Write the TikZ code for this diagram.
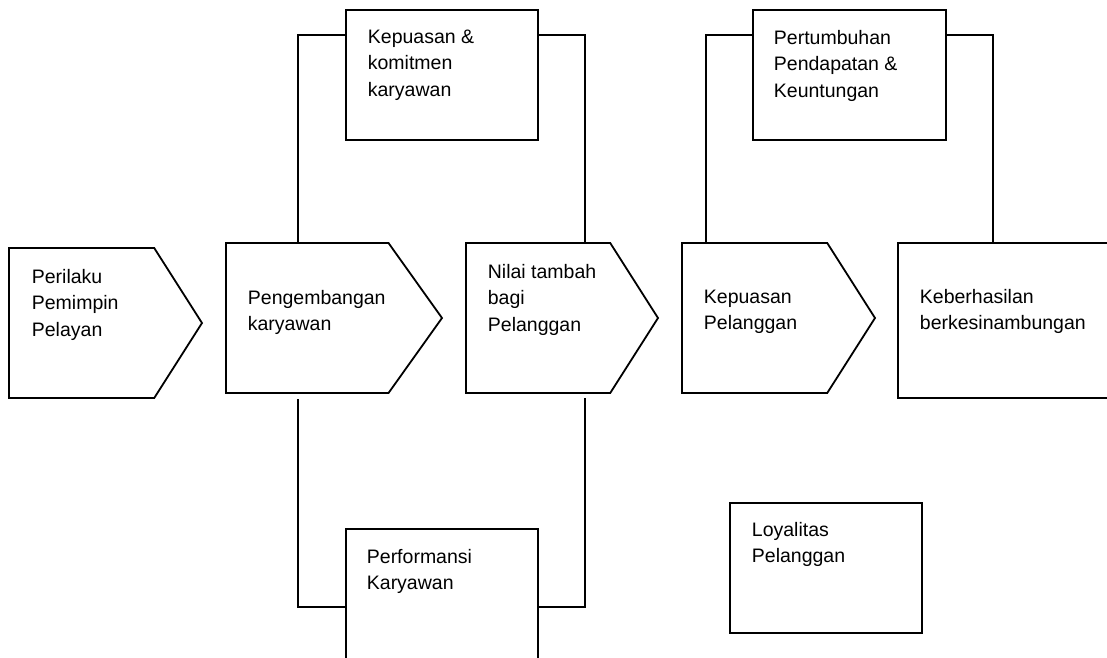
\documentclass[tikz,border=0pt]{standalone}
\usepackage{fontspec}
\setmainfont{Liberation Sans}
\usetikzlibrary{shapes.symbols, positioning}

\begin{document}
\begin{tikzpicture}[x=1pt, y=-1pt, line width=1.8pt,
    chevron/.style={signal, signal to=east, draw, signal pointer angle=115,
        minimum height=150pt, outer sep=0pt, inner sep=0pt, anchor=north west},
    kotak/.style={rectangle, draw, outer sep=0pt, inner sep=0pt, anchor=north west},
    teks/.style={inner sep=0pt, anchor=north west, align=left,
        font=\fontsize{19.5}{26.5}\selectfont}]
\useasboundingbox (0,0) rectangle (1107,657);
\clip (0,0) rectangle (1107,657);
% alur utama
\node[chevron, minimum width=193pt] (perilaku) at (9,248) {};
\node[chevron, minimum width=216pt, signal pointer angle=109] (pengembangan) at (226,243) {};
\node[chevron, minimum width=192pt] (nilai) at (466,243) {};
\node[chevron, minimum width=193pt] (kepuasan) at (682,243) {};
\node[kotak, minimum width=240pt, minimum height=155pt] (keberhasilan) at (898,243) {};
% kotak atas dan bawah
\node[kotak, minimum width=192pt, minimum height=130pt] (komitmen) at (346,10) {};
\node[kotak, minimum width=193pt, minimum height=130pt] (pertumbuhan) at (753,10) {};
\node[kotak, minimum width=192pt, minimum height=160pt] (performansi) at (346,529) {};
\node[kotak, minimum width=192pt, minimum height=130pt] (loyalitas) at (730,503) {};
% teks
\node[teks, below right=20pt and 22pt of perilaku.north west] (perilaku-t) {Perilaku\\Pemimpin\\Pelayan};
\node[teks, below right=46pt and 21pt of pengembangan.north west] (pengembangan-t) {Pengembangan\\karyawan};
\node[teks, below right=20pt and 21pt of nilai.north west] (nilai-t) {Nilai tambah\\bagi\\Pelanggan};
\node[teks, below right=46pt and 21pt of kepuasan.north west] (kepuasan-t) {Kepuasan\\Pelanggan};
\node[teks, below right=45pt and 21pt of keberhasilan.north west] (keberhasilan-t) {Keberhasilan\\berkesinambungan};
\node[teks, below right=19pt and 21pt of komitmen.north west] (komitmen-t) {Kepuasan \&\\komitmen\\karyawan};
\node[teks, below right=19pt and 20pt of pertumbuhan.north west] (pertumbuhan-t) {Pertumbuhan\\Pendapatan \&\\Keuntungan};
\node[teks, below right=19pt and 20pt of performansi.north west] (performansi-t) {Performansi\\Karyawan};
\node[teks, below right=18pt and 21pt of loyalitas.north west] (loyalitas-t) {Loyalitas\\Pelanggan};
% garis penghubung
\draw ([xshift=72pt]pengembangan.north west) |- ([yshift=-25pt]komitmen.north west);
\draw ([yshift=-25pt]komitmen.north east) -| ([xshift=119pt]nilai.north west);
\draw ([xshift=72pt,yshift=-6pt]pengembangan.south west) |- ([yshift=-78pt]performansi.north west);
\draw ([xshift=119pt,yshift=-5pt]nilai.south west) |- ([yshift=-78pt]performansi.north east);
\draw ([xshift=24pt]kepuasan.north west) |- ([yshift=-25pt]pertumbuhan.north west);
\draw ([yshift=-25pt]pertumbuhan.north east) -| ([xshift=95pt]keberhasilan.north west);
\end{tikzpicture}
\end{document}
